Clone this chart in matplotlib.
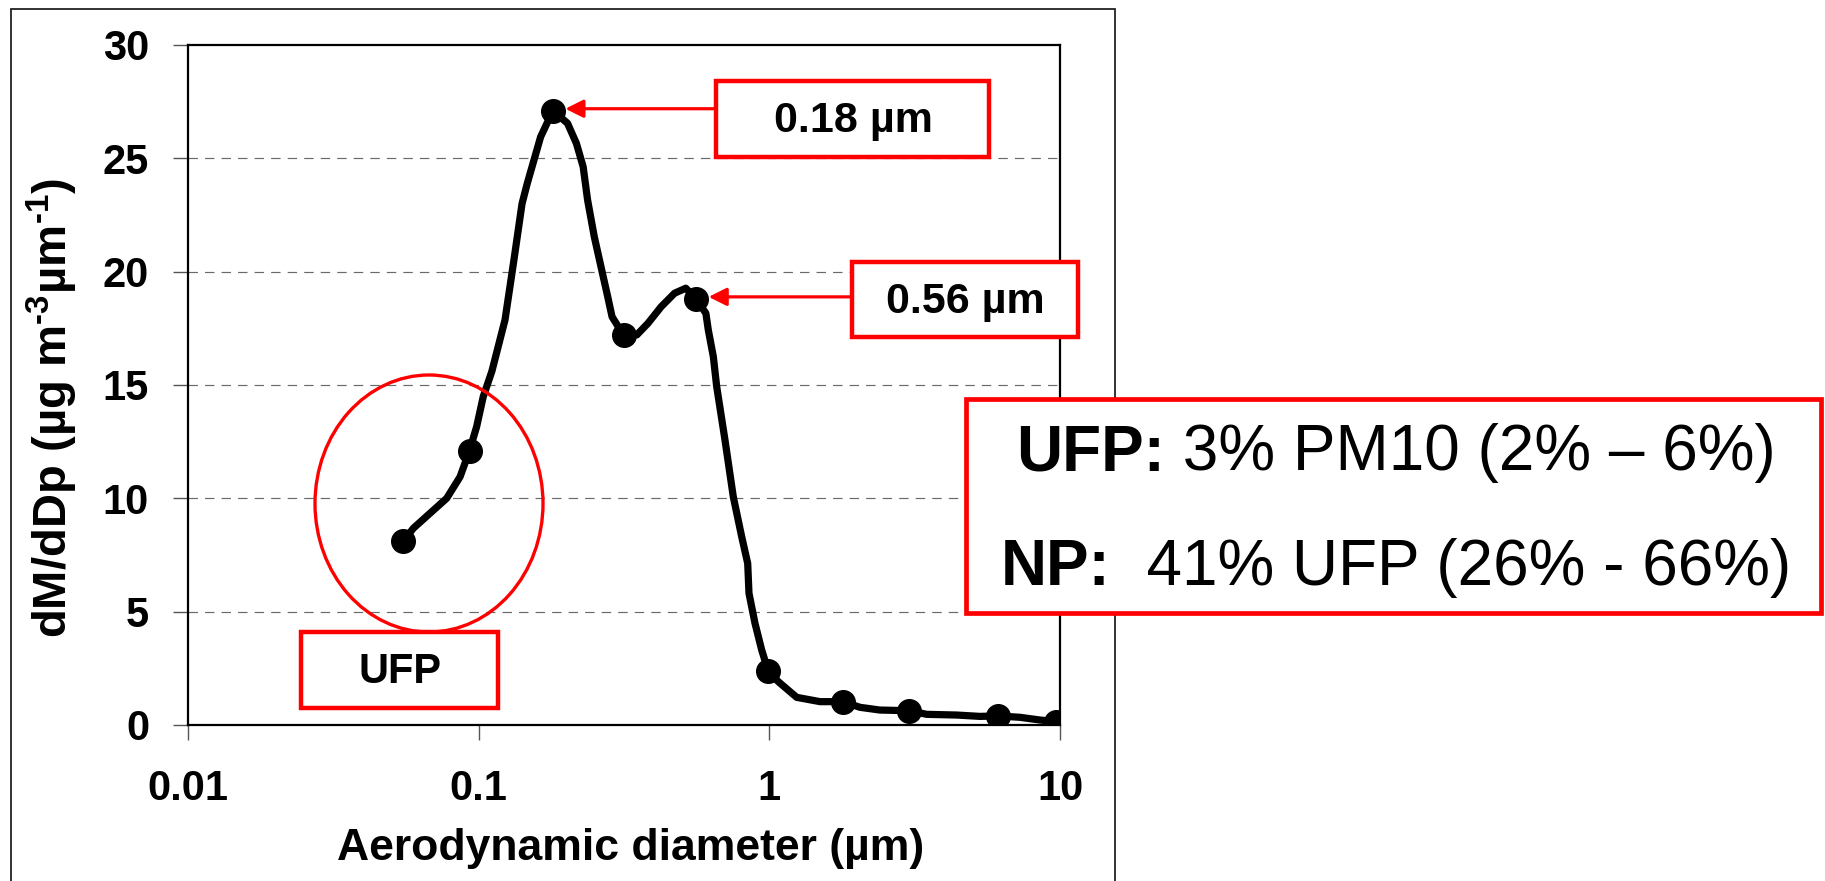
import matplotlib
matplotlib.use("Agg")
import matplotlib.pyplot as plt
from matplotlib.patches import Rectangle, Ellipse

# impactor stages (markers)
stage_dp = [0.055, 0.093, 0.18, 0.315, 0.56, 0.99, 1.79, 3.03, 6.13, 9.7]
stage_dmddp = [8.1, 12.1, 27.1, 17.2, 18.8, 2.4, 1.03, 0.63, 0.40, 0.15]

# smoothed line
curve_dp = [0.055, 0.0596, 0.068, 0.0776, 0.0863, 0.093, 0.0984, 0.1037, 0.111,
            0.1232, 0.1322, 0.141, 0.147, 0.1634, 0.18, 0.2021, 0.2169, 0.2288,
            0.237, 0.2499, 0.2682, 0.2779, 0.2877, 0.315, 0.35, 0.3822, 0.4249,
            0.4721, 0.5159, 0.56, 0.605, 0.6166, 0.6417, 0.659, 0.7038, 0.7516,
            0.8033, 0.8425, 0.8511, 0.8925, 0.9412, 0.99, 1.074, 1.242, 1.494,
            1.79, 2.051, 2.40, 3.03, 3.48, 4.41, 5.30, 6.13, 7.28, 8.53, 9.7]
curve_dmddp = [8.1, 8.68, 9.34, 10.0, 10.95, 12.1, 13.16, 14.49, 15.6,
               17.87, 20.51, 23.0, 23.9, 25.95, 27.1, 26.55, 25.66, 24.63,
               23.16, 21.54, 19.78, 18.9, 18.01, 17.2, 17.21, 17.72, 18.46,
               19.05, 19.27, 18.8, 18.16, 17.43, 16.25, 14.93, 12.57, 10.07,
               8.31, 7.13, 5.81, 4.49, 3.31, 2.4, 1.91, 1.22, 1.03,
               1.03, 0.78, 0.66, 0.63, 0.47, 0.44, 0.38, 0.40, 0.34, 0.22, 0.15]

x_ticks = [0.01, 0.1, 1, 10]
x_tick_labels = ["0.01", "0.1", "1", "10"]
y_ticks = [0, 5, 10, 15, 20, 25, 30]

peak_labels = ["0.18 µm", "0.56 µm"]

plt.rcParams["font.family"] = ["Liberation Sans", "DejaVu Sans"]
plt.rcParams["mathtext.fontset"] = "custom"
plt.rcParams["mathtext.rm"] = "Liberation Sans"
plt.rcParams["mathtext.bf"] = "Liberation Sans:bold"

W, H = 1825, 881
fig = plt.figure(figsize=(W / 100, H / 100), dpi=100)


def fx(px):
    return px / W


def fy(py):
    return 1 - py / H


# axes box in pixels: left 188, right 1060, top 45, bottom 725
ax = fig.add_axes([fx(188), fy(725), (1060 - 188) / W, (725 - 45) / H])
ax.set_xscale("log")
ax.set_xlim(0.01, 10)
ax.set_ylim(0, 30)

for v in y_ticks[1:-1]:
    ax.axhline(v, color="#6a6a6a", lw=0.85, linestyle=(0, (8, 6)), zorder=1)

ax.plot(curve_dp, curve_dmddp, color="black", lw=5.2, solid_joinstyle="round",
        solid_capstyle="round", zorder=3)
ax.plot(stage_dp, stage_dmddp, "o", color="black", markersize=17, zorder=4)

ax.set_xticks(x_ticks)
ax.set_xticklabels(x_tick_labels)
ax.xaxis.set_minor_locator(matplotlib.ticker.NullLocator())
ax.set_yticks(y_ticks)
ax.tick_params(axis="both", direction="out", length=11, width=1, color="#555555",
               labelsize=30)
ax.tick_params(axis="y", pad=17)
ax.tick_params(axis="x", pad=21)
for lab in ax.get_xticklabels() + ax.get_yticklabels():
    lab.set_fontweight("bold")

for s in ax.spines.values():
    s.set_linewidth(1.6)
    s.set_color("black")

ax.set_xlabel("Aerodynamic diameter (µm)", fontsize=32, fontweight="bold")
ax.xaxis.set_label_coords(0.508, -(828 - 725) / 680)
ax.xaxis.label.set_va("top")
ax.set_ylabel("dM/dDp (µg m$^{\\mathbf{‐3}}$µm$^{\\mathbf{‐1}}$)", fontsize=34,
              fontweight="bold")
ax.yaxis.set_label_coords((80 - 188) / 872, 0.466)

# outer chart frame
fig.add_artist(Rectangle((fx(11), fy(900)), (1115 - 11) / W, (900 - 9) / H,
                         transform=fig.transFigure, fill=False,
                         edgecolor="#222222", lw=1.3))

red = "#ff0000"


def red_box(x0, y0, x1, y1, lw=3.2):
    fig.add_artist(Rectangle((fx(x0), fy(y1)), (x1 - x0) / W, (y1 - y0) / H,
                             transform=fig.transFigure, facecolor="white",
                             edgecolor=red, lw=lw, zorder=5))


def arrow_to(i, box_left):
    # horizontal arrow from the box edge to the marker
    mx, my = ax.transData.transform((stage_dp[i], stage_dmddp[i]))
    py = H - my - 2
    fig.add_artist(matplotlib.patches.FancyArrowPatch(
        (fx(box_left), fy(py)), (fx(mx), fy(py)), transform=fig.transFigure,
        arrowstyle="-|>", color=red, lw=2.3, shrinkA=0, shrinkB=9,
        mutation_scale=27, zorder=6))


# peak call-outs
red_box(716, 81, 989, 157)
fig.text(fx(853), fy(132), peak_labels[0], ha="center", va="baseline",
         fontsize=31, fontweight="bold", zorder=6)
arrow_to(2, 716)

red_box(852, 262, 1078, 337)
fig.text(fx(965), fy(313), peak_labels[1], ha="center", va="baseline",
         fontsize=31, fontweight="bold", zorder=6)
arrow_to(4, 852)

# UFP circle and label
fig.add_artist(Ellipse((fx(429), fy(503.5)), 228 / W, 257 / H,
                       transform=fig.transFigure, fill=False, edgecolor=red,
                       lw=2.4, zorder=5))
red_box(301, 632, 498, 708)
fig.text(fx(400), fy(683), "UFP", ha="center", va="baseline",
         fontsize=30, fontweight="bold", zorder=6)

# summary box
red_box(966, 399, 1821, 613, lw=3.4)
renderer = fig.canvas.get_renderer()
summary = [("UFP:", " 3% PM10 (2% – 6%)", 470),
           ("NP:", "  41% UFP (26% - 66%)", 585)]
for bold_part, rest, base in summary:
    tb = fig.text(0, fy(base), bold_part, fontsize=46, fontweight="bold",
                  va="baseline", ha="left", zorder=6)
    tr = fig.text(0, fy(base), rest, fontsize=46, va="baseline", ha="left",
                  zorder=6)
    wb = tb.get_window_extent(renderer).width
    wr = tr.get_window_extent(renderer).width
    x0 = 1396 - (wb + wr) / 2
    tb.set_x(fx(x0))
    tr.set_x(fx(x0 + wb))

fig.savefig("out.png", dpi=100)
